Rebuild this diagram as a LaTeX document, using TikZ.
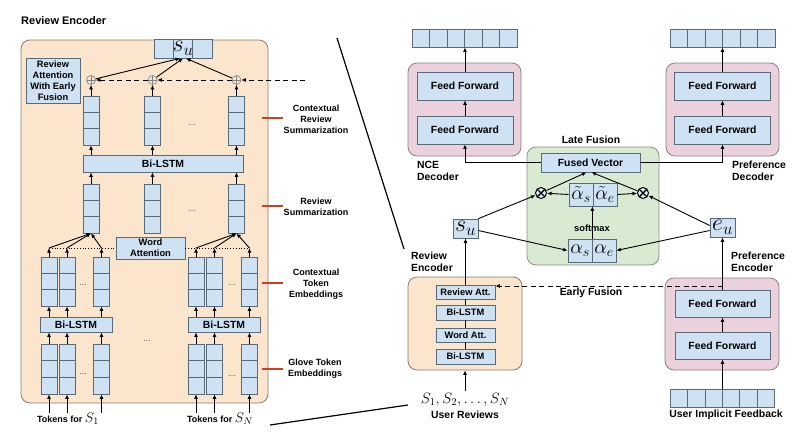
\RequirePackage{fix-cm}
\documentclass[tikz,border=0pt]{standalone}
\usepackage[no-math]{fontspec}
\setmainfont{Liberation Sans}
\usetikzlibrary{arrows.meta,calc}
\definecolor{lblue}{HTML}{CFE2F3}
\definecolor{bordc}{HTML}{596A78}
\definecolor{peach}{HTML}{FCE5CD}
\definecolor{peachb}{HTML}{8C7B70}
\definecolor{pinkf}{HTML}{EAD1DC}
\definecolor{pinkb}{HTML}{8C7F86}
\definecolor{greenf}{HTML}{D9EAD3}
\definecolor{greenb}{HTML}{86937F}
\definecolor{redl}{HTML}{CC4125}
\definecolor{dotc}{HTML}{555555}
\tikzset{
  blk/.style={draw=bordc, fill=lblue, line width=0.7pt, inner sep=0pt},
  vcells/.style={path picture={\foreach \f in {#1}{\draw[bordc,line width=0.7pt] ($(path picture bounding box.north west)!\f!(path picture bounding box.south west)$) -- ($(path picture bounding box.north east)!\f!(path picture bounding box.south east)$);}}},
  hcells/.style={path picture={\foreach \f in {#1}{\draw[bordc,line width=0.7pt] ($(path picture bounding box.north west)!\f!(path picture bounding box.north east)$) -- ($(path picture bounding box.south west)!\f!(path picture bounding box.south east)$);}}},
  colv/.style={blk, vcells={0.3333,0.6667}, minimum width=16pt, minimum height=49pt},
  rowv/.style={blk, hcells={0.16667,0.33333,0.5,0.66667,0.83333}, minimum width=105pt, minimum height=18pt},
  cont/.style={rounded corners=9pt, line width=0.8pt, inner sep=0pt},
  fs9/.style={font=\fontsize{9}{11}\selectfont\bfseries, align=center},
  fs93/.style={font=\fontsize{9.3}{11}\selectfont\bfseries, align=center},
  fsb/.style={font=\fontsize{10.4}{12}\selectfont\bfseries, align=left},
  fsc/.style={font=\fontsize{10.4}{12}\selectfont\bfseries},
  arr/.style={-{Latex[length=4.5pt,width=4pt]}, line width=0.9pt},
  dsh/.style={dash pattern=on 5pt off 3.5pt},
  dotn/.style={font=\fontsize{9}{9}\selectfont, text=dotc, inner sep=0pt},
  pcirc/.style={circle, draw=gray, line width=0.6pt, minimum size=9pt, inner sep=0pt, path picture={\draw[gray,line width=0.6pt] (path picture bounding box.north) -- (path picture bounding box.south) (path picture bounding box.west) -- (path picture bounding box.east);}},
  xcirc/.style={circle, draw=black, line width=1pt, fill=lblue!60, minimum size=11pt, inner sep=0pt, path picture={\draw[line width=1.4pt] (path picture bounding box.north west) -- (path picture bounding box.south east) (path picture bounding box.north east) -- (path picture bounding box.south west);}},
  ff/.style={blk, minimum width=96pt, minimum height=28pt, font=\fontsize{10.4}{12}\selectfont\bfseries},
  ib/.style={blk, minimum width=59pt, minimum height=14pt, font=\fontsize{9.3}{11}\selectfont\bfseries},
  redtick/.style={draw=redl, line width=1.1pt},
  bigm/.style={font=\fontsize{24}{24}\selectfont},
  midm/.style={font=\fontsize{20}{20}\selectfont},
}
\begin{document}
\begin{tikzpicture}[x=1pt,y=-1pt]
\useasboundingbox (0,0) rectangle (800,434);
% ================= LEFT PANEL =================
\node[cont, draw=peachb, fill=peach, minimum width=247pt, minimum height=363pt] (lenc) at (144.5,221.5) {};
\node[font=\fontsize{11}{13}\selectfont\bfseries, anchor=west, inner sep=0pt] (ltitle) at (21,21) {Review Encoder};
\node[blk, hcells={0.3333,0.6667}, minimum width=58pt, minimum height=19pt, bigm] (su1) at (183,48.5) {$s_u$};
\node[blk, minimum width=54pt, minimum height=45pt, fs93] (raef) at (53,80.5) {Review\\Attention\\With Early\\Fusion};
\node[pcirc] (p1) at (91,80) {};
\node[pcirc] (p2) at (152.5,80) {};
\node[pcirc] (p3) at (236.5,80) {};
\coordinate (dstart) at (305,80);
\node[colv] (c1) at (91,120.5) {};
\node[colv] (c2) at (152.5,120.5) {};
\node[colv] (c3) at (236.5,120.5) {};
\node[dotn] (dd1) at (192,125) {...};
\node[blk, minimum width=160pt, minimum height=17pt, fsc] (bl) at (163,163.5) {Bi-LSTM};
\node[colv] (r1) at (91,208.5) {};
\node[colv] (r2) at (152.5,208.5) {};
\node[colv] (r3) at (236.5,208.5) {};
\node[dotn] (dd2) at (192,211) {...};
\node[blk, minimum width=69pt, minimum height=22pt, fs93] (wa) at (150.5,248) {Word\\Attention};
% token groups
\foreach \n/\x in {a/49,b/67,c/101.5}{
  \node[colv] (tl\n) at (\x,281.5) {};
  \node[colv, minimum height=50pt] (gl\n) at (\x,369) {};
  \coordinate (jl\n) at (\x,248);
}
\foreach \n/\x in {a/196,b/214.5,c/249.5}{
  \node[colv] (tr\n) at (\x,281.5) {};
  \node[colv, minimum height=50pt] (gr\n) at (\x,369) {};
  \coordinate (jr\n) at (\x,248);
}
\node[blk, minimum width=72pt, minimum height=15pt, fsc] (bls1) at (76,324.5) {Bi-LSTM};
\node[blk, minimum width=72pt, minimum height=15pt, fsc] (bls2) at (224,324.5) {Bi-LSTM};
\node[dotn] (dd3) at (83,285) {...};
\node[dotn] (dd4) at (83,374) {...};
\node[dotn] (dd5) at (232,285) {...};
\node[dotn] (dd6) at (232,376) {...};
\node[dotn] (dd7) at (147,341) {...};
\coordinate (tk1) at (68,413);
\coordinate (tk2) at (220,413);
\node[font=\fontsize{9}{11}\selectfont\bfseries] (tok1) at (68,419) {Tokens for {\fontsize{14}{14}\selectfont$S_1$}};
\node[font=\fontsize{9}{11}\selectfont\bfseries] (tok2) at (220,419) {Tokens for {\fontsize{14}{14}\selectfont$S_N$}};
% left arrows
\foreach \n in {a,b,c}{
  \draw[arr] (gl\n.north) -- (gl\n.north |- bls1.south);
  \draw[arr] (tl\n.south |- bls1.north) -- (tl\n.south);
  \draw[arr] (tl\n.north) -- (jl\n);
  \draw[arr] (jl\n) -- (r1.south);
  \draw[arr] (gl\n.south |- tk1) -- (gl\n.south);
  \draw[arr] (gr\n.north) -- (gr\n.north |- bls2.south);
  \draw[arr] (tr\n.south |- bls2.north) -- (tr\n.south);
  \draw[arr] (tr\n.north) -- (jr\n);
  \draw[arr] (jr\n) -- (r3.south);
  \draw[arr] (gr\n.south |- tk2) -- (gr\n.south);
}
\draw[dotted, line width=0.8pt] (jla) -- (wa.west);
\draw[dotted, line width=0.8pt] (wa.east) -- (jrc);
\foreach \i in {1,2,3}{
  \draw[arr] (r\i.north) -- (r\i.north |- bl.south);
  \draw[arr] (c\i.south |- bl.north) -- (c\i.south);
  \draw[arr] (c\i.north) -- (p\i.south);
}
\draw[arr] (p1) -- ([xshift=-3pt]su1.south);
\draw[arr] (p2) -- (su1.south);
\draw[arr] (p3) -- ([xshift=3pt]su1.south);
\draw[arr, dsh] (dstart) -- (p3.east);
\draw[arr, dsh] (p3.west) -- (p2.east);
\draw[arr, dsh] (p2.west) -- (p1.east);
% side labels
\node[fs9] (lab1) at (316,119) {Contextual\\Review\\Summarization};
\node[fs9] (lab2) at (316,206.5) {Review\\Summarization};
\node[fs9] (lab3) at (316,284) {Contextual\\Token\\Embeddings};
\node[fs9] (lab4) at (315,369) {Glove Token\\Embeddings};
\draw[redtick] (262,118) -- (283,118);
\draw[redtick] (262,206) -- (283,206);
\draw[redtick] (262,283) -- (283,283);
\draw[redtick] (262,369) -- (283,369);
% diagonal connectors
\draw[line width=1.2pt] (337,38) -- (404,249);
\draw[line width=1.2pt] (270,425) -- (408,405);
% ================= RIGHT PANEL =================
\node[cont, draw=pinkb, fill=pinkf, minimum width=113pt, minimum height=93pt] (ndec) at (464.5,109.5) {};
\node[cont, draw=pinkb, fill=pinkf, minimum width=113pt, minimum height=93pt] (pdec) at (722.5,109.5) {};
\node[rowv] (vecn) at (464.5,38) {};
\node[rowv] (vecp) at (722.5,38) {};
\node[ff] (ffn1) at (465,86) {Feed Forward};
\node[ff] (ffn2) at (465,130) {Feed Forward};
\node[ff] (ffp1) at (722.5,86) {Feed Forward};
\node[ff] (ffp2) at (722.5,130) {Feed Forward};
\node[fsb, anchor=west, inner sep=0pt] (nlab) at (417,171) {NCE\\Decoder};
\node[fsb, anchor=west, inner sep=0pt] (plab) at (732,171) {Preference\\Decoder};
\node[cont, draw=greenb, fill=greenf, minimum width=132pt, minimum height=118pt] (late) at (593,206) {};
\node[fsc] (latel) at (591,140) {Late Fusion};
\node[blk, minimum width=99pt, minimum height=19pt, fsc] (fv) at (590.5,162.5) {Fused Vector};
\node[blk, minimum width=24pt, minimum height=23pt, midm] (tas) at (581,194.5) {$\tilde{\alpha}_s$};
\node[blk, minimum width=24pt, minimum height=23pt, midm] (tae) at (605,194.5) {$\tilde{\alpha}_e$};
\node[blk, minimum width=24pt, minimum height=23pt, midm] (as) at (580,250.5) {$\alpha_s$};
\node[blk, minimum width=24pt, minimum height=23pt, midm] (ae) at (604,250.5) {$\alpha_e$};
\node[xcirc] (x1) at (541,193) {};
\node[xcirc] (x2) at (643,193) {};
\draw[arr] (as.north east) -- (as.north east |- tas.south);
\node[fs93, inner sep=1pt] (smax) at (592,228) {softmax};
\node[blk, minimum width=25pt, minimum height=19pt, bigm] (su2) at (465.5,228.5) {$s_u$};
\node[blk, minimum width=25pt, minimum height=19pt, bigm] (eu) at (722.5,227.5) {$e_u$};
% review encoder (right)
\node[cont, draw=peachb, fill=peach, minimum width=114pt, minimum height=93pt] (renc) at (465,323.5) {};
\node[ib] (ra) at (465.5,292) {Review Att.};
\node[ib, minimum height=15pt] (rb1) at (465.5,312.5) {Bi-LSTM};
\node[ib] (rw) at (465.5,335) {Word Att.};
\node[ib, minimum height=15pt] (rb2) at (465.5,356.5) {Bi-LSTM};
\node[fsb, anchor=west, inner sep=0pt] (rlab) at (411,262) {Review\\Encoder};
\node[font=\fontsize{15}{15}\selectfont, inner sep=0pt] (slist) at (465,400) {$S_1, S_2, \ldots, S_N$};
\node[fsc, inner sep=0pt] (ulab) at (465,415) {User Reviews};
\coordinate (sl) at (465,391);
% preference encoder
\node[cont, draw=pinkb, fill=pinkf, minimum width=114pt, minimum height=92pt] (penc) at (722,324) {};
\node[ff, minimum width=95pt, minimum height=27pt] (ffe1) at (722.5,303.5) {Feed Forward};
\node[ff, minimum width=95pt, minimum height=27pt] (ffe2) at (722.5,345.5) {Feed Forward};
\node[fsb, anchor=west, inner sep=0pt] (elab) at (731,262) {Preference\\Encoder};
\node[rowv, minimum width=104pt] (uif) at (722.5,398) {};
\node[fsc, inner sep=0pt] (uilab) at (726,415) {User Implicit Feedback};
\node[fsc, inner sep=0pt] (eflab) at (591,293) {Early Fusion};
\coordinate (ef) at (722.5,286);
% right arrows
\draw[arr] (ffn1.north) -- (ffn1.north |- vecn.south);
\draw[arr] (ffn2.north) -- (ffn1.south);
\draw[arr] (ffp1.north) -- (vecp.south);
\draw[arr] (ffp2.north) -- (ffp1.south);
\draw[arr] (fv.west) -| (ffn2.south);
\draw[arr] (fv.east) -| (ffp2.south);
\draw[arr] (x1) -- ([xshift=-4pt]fv.south);
\draw[arr] (x2) -- ([xshift=1pt]fv.south);
\draw[arr] (tas.west) -- (x1);
\draw[arr] (tae.east) -- (x2);
\draw[arr] (su2.north east) -- (x1);
\draw[arr] ([yshift=-2pt]su2.east) -- (as.west);
\draw[arr] ([yshift=2pt]eu.west) -- (x2);
\draw[arr] ([yshift=-3pt]eu.west) -- (ae.east);
\draw[arr] (ra.north) -- (su2.south);
\draw[line width=0.8pt] (ra.south) -- (rb1.north);
\draw[line width=0.8pt] (rb1.south) -- (rw.north);
\draw[line width=0.8pt] (rw.south) -- (rb2.north);
\draw[arr] (sl) -- (renc.south);
\draw[arr] (ffe1.north) -- (eu.south);
\draw[arr] (ffe2.north) -- (ffe1.south);
\draw[arr] (uif.north) -- (ffe2.south);
\draw[arr, dsh] (ef) -- (ra.east |- ef);
\end{tikzpicture}
\end{document}
